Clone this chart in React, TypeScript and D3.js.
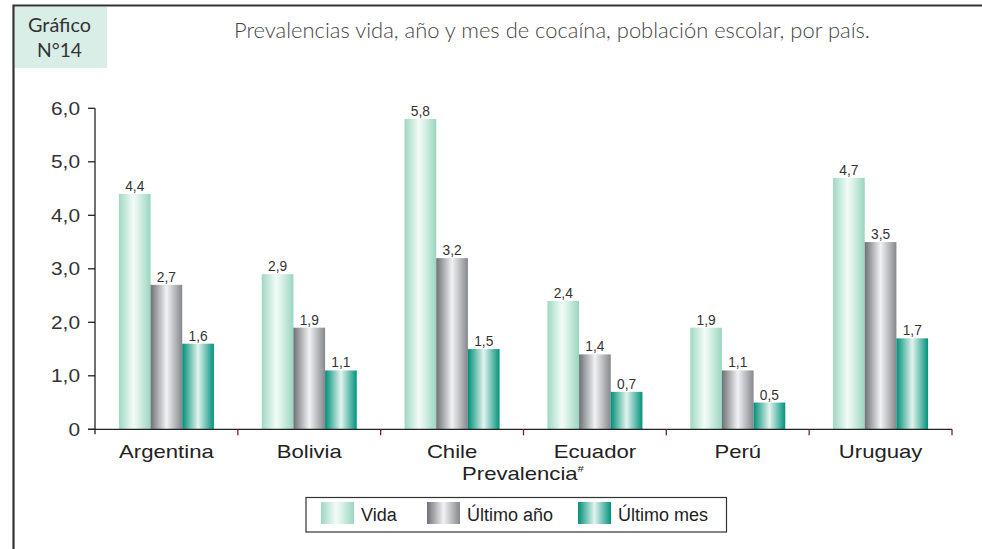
import React from "react";
import * as d3 from "d3";

const categories = ["Argentina", "Bolivia", "Chile", "Ecuador", "Perú", "Uruguay"];
const seriesNames = ["Vida", "Último año", "Último mes"];
const vida = [4.4, 2.9, 5.8, 2.4, 1.9, 4.7];
const ultimoAno = [2.7, 1.9, 3.2, 1.4, 1.1, 3.5];
const ultimoMes = [1.6, 1.1, 1.5, 0.7, 0.5, 1.7];
const yTicks = [0, 1, 2, 3, 4, 5, 6];

const gradients = [
  { id: "gVida", stops: [["0%", "#9fd8c2"], ["45%", "#f2fbf8"], ["55%", "#e6f6f0"], ["100%", "#9ad6bf"]] },
  { id: "gAno", stops: [["0%", "#6d7075"], ["50%", "#f2f2f4"], ["100%", "#85878c"]] },
  { id: "gMes", stops: [["0%", "#008f78"], ["50%", "#e3f3ee"], ["100%", "#00937b"]] },
];

const fmt = (v: number) => (v === 0 ? "0" : v.toFixed(1).replace(".", ","));

export default function App() {
  const W = 982, H = 549;
  const x0 = 95, x1 = 952, yBase = 429.3, yTop = 108.3;
  const series = [vida, ultimoAno, ultimoMes];
  const x = d3.scaleBand<string>().domain(categories).range([x0, x1]).paddingInner(0).paddingOuter(0);
  const xi = d3.scaleBand<number>().domain([0, 1, 2]).range([0, 95]);
  const y = d3.scaleLinear().domain([0, 6]).range([yBase, yTop]);
  const font = "'Liberation Sans', 'Arial', sans-serif";
  const gill = "'Lato', 'Open Sans', sans-serif";

  return (
    <svg width={W} height={H} style={{ position: "absolute", left: 0, top: 0, background: "#fff" }}>
      <defs>
        {gradients.map((g) => (
          <linearGradient key={g.id} id={g.id} x1="0" x2="1" y1="0" y2="0">
            {g.stops.map(([o, c]) => (
              <stop key={o} offset={o} stopColor={c} />
            ))}
          </linearGradient>
        ))}
      </defs>
      <rect x={0} y={0} width={W} height={H} fill="#fff" />
      {/* frame */}
      <path d={`M13.5,${H} L13.5,5.5 L${W},5.5`} fill="none" stroke="#333" strokeWidth={2.2} />
      <rect x={15} y={7} width={92} height={61} fill="#d9eee7" />
      <text x={28} y={32} textLength={63} lengthAdjust="spacingAndGlyphs" fontFamily={gill} fontSize={20} fill="#333">Gráfico</text>
      <text x={37} y={57} textLength={45} lengthAdjust="spacingAndGlyphs" fontFamily={gill} fontSize={20} fill="#333">N°14</text>
      <text x={234} y={38} textLength={636} lengthAdjust="spacingAndGlyphs" fontFamily={gill} fontSize={21} fontWeight={300} fill="#444">
        Prevalencias vida, año y mes de cocaína, población escolar,  por país.
      </text>

      {/* bars */}
      {categories.map((c, ci) => {
        const gx = (x(c) as number) + (x.bandwidth() - 95) / 2;
        return (
          <g key={c}>
            {series.map((s, si) => {
              const bx = gx + (xi(si) as number);
              const by = y(s[ci]);
              return (
                <g key={si}>
                  <rect x={bx} y={by} width={xi.bandwidth()} height={yBase - by} fill={`url(#${gradients[si].id})`} />
                  <text transform={`translate(${bx + xi.bandwidth() / 2},${by - 3}) scale(0.95,1)`} textAnchor="middle" fontFamily={font} fontSize={14.5} fill="#333">
                    {fmt(s[ci])}
                  </text>
                </g>
              );
            })}
          </g>
        );
      })}

      {/* y axis */}
      <line x1={x0} x2={x0} y1={yTop} y2={yBase + 5} stroke="#222" strokeWidth={1.3} />
      {yTicks.map((t) => (
        <g key={t}>
          <line x1={x0 - 7} x2={x0} y1={y(t)} y2={y(t)} stroke="#222" strokeWidth={1.3} />
          <text transform={`translate(80,${y(t) + 6.3}) scale(1.18,1)`} textAnchor="end" fontFamily={font} fontSize={17.7} fill="#333">
            {fmt(t)}
          </text>
        </g>
      ))}
      {/* x axis */}
      <line x1={x0 - 7} x2={x1} y1={yBase} y2={yBase} stroke="#222" strokeWidth={1.3} />
      {categories.slice(1).concat(["__end"]).map((c, i) => {
        const tx = x0 + x.bandwidth() * (i + 1);
        return <line key={c} x1={tx} x2={tx} y1={yBase} y2={yBase + 6} stroke="#7a1f24" strokeWidth={1.3} />;
      })}
      {categories.map((c) => (
        <text key={c} transform={`translate(${(x(c) as number) + x.bandwidth() / 2},458) scale(1.25,1)`} textAnchor="middle" fontFamily={font} fontSize={17.7} fill="#222">
          {c}
        </text>
      ))}
      <text transform="translate(523,480) scale(1.25,1)" textAnchor="middle" fontFamily={font} fontSize={17.7} fill="#222">
        Prevalencia<tspan fontSize={9} dy={-8}>#</tspan>
      </text>

      {/* legend */}
      <rect x={306} y={497.5} width={420.5} height={34.5} fill="#fff" stroke="#333" strokeWidth={1.2} />
      {seriesNames.map((n, i) => {
        const lx = [321, 427, 578][i];
        return (
          <g key={n}>
            <rect x={lx} y={502} width={33} height={22} fill={`url(#${gradients[i].id})`} />
            <text x={lx + 40} y={521} fontFamily={font} fontSize={18} fill="#222">{n}</text>
          </g>
        );
      })}
    </svg>
  );
}
